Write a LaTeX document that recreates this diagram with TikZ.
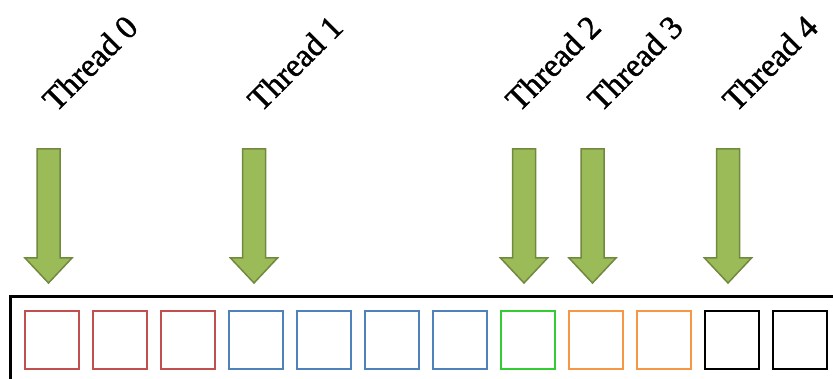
\documentclass[tikz,border=0pt]{standalone}
\usepackage{fontspec}
\setmainfont{Liberation Serif}
\newfontfamily\thrfont[FakeBold=1.2]{Liberation Serif}
\definecolor{arrfill}{HTML}{9BBB59}
\definecolor{arrline}{HTML}{71893F}
\definecolor{cred}{HTML}{C0504D}
\definecolor{cblue}{HTML}{4F81BD}
\definecolor{cgreen}{HTML}{33CC33}
\definecolor{corange}{HTML}{F79646}
\tikzset{
  thr/.style={rotate=45,anchor=base west,inner sep=0pt,font=\thrfont\fontsize{33}{33}\selectfont},
  fatarrow/.style={fill=arrfill,draw=arrline,line width=1.5pt,line join=miter},
  cell/.style={draw=#1,line width=2.2pt,minimum width=54pt,minimum height=58pt,inner sep=0pt,anchor=north west},
  frame/.style={draw=black,line width=3pt}
}
\newcommand{\fatarrowat}[1]{%
  \draw[fatarrow] (#1-11.5,149) -- (#1+11.5,149) -- (#1+11.5,258) -- (#1+23.5,258)
    -- (#1,283) -- (#1-23.5,258) -- (#1-11.5,258) -- cycle;}
\begin{document}
\begin{tikzpicture}[x=1pt,y=-1pt]
\useasboundingbox (0,0) rectangle (833,379);
\begin{scope}
\clip (0,0) rectangle (833,379);
\node[frame,minimum width=840pt,minimum height=100pt,anchor=north west,inner sep=0pt] (outer) at (9,295) {};
\end{scope}
% cells
\foreach \i/\c in {0/cred,1/cred,2/cred,3/cblue,4/cblue,5/cblue,6/cblue,7/cgreen,8/corange,9/corange,10/black,11/black}{
  \node[cell=\c] (c\i) at ({24+68*\i},310) {};
}
% arrows
\fatarrowat{48.5}
\fatarrowat{254}
\fatarrowat{524}
\fatarrowat{592.5}
\fatarrowat{728}
% labels
\node[thr] (t0) at (56,113) {Thread 0};
\node[thr] (t1) at (261,113) {Thread 1};
\node[thr] (t2) at (519,113) {Thread 2};
\node[thr] (t3) at (601,113) {Thread 3};
\node[thr] (t4) at (736,113) {Thread 4};
\end{tikzpicture}
\end{document}
